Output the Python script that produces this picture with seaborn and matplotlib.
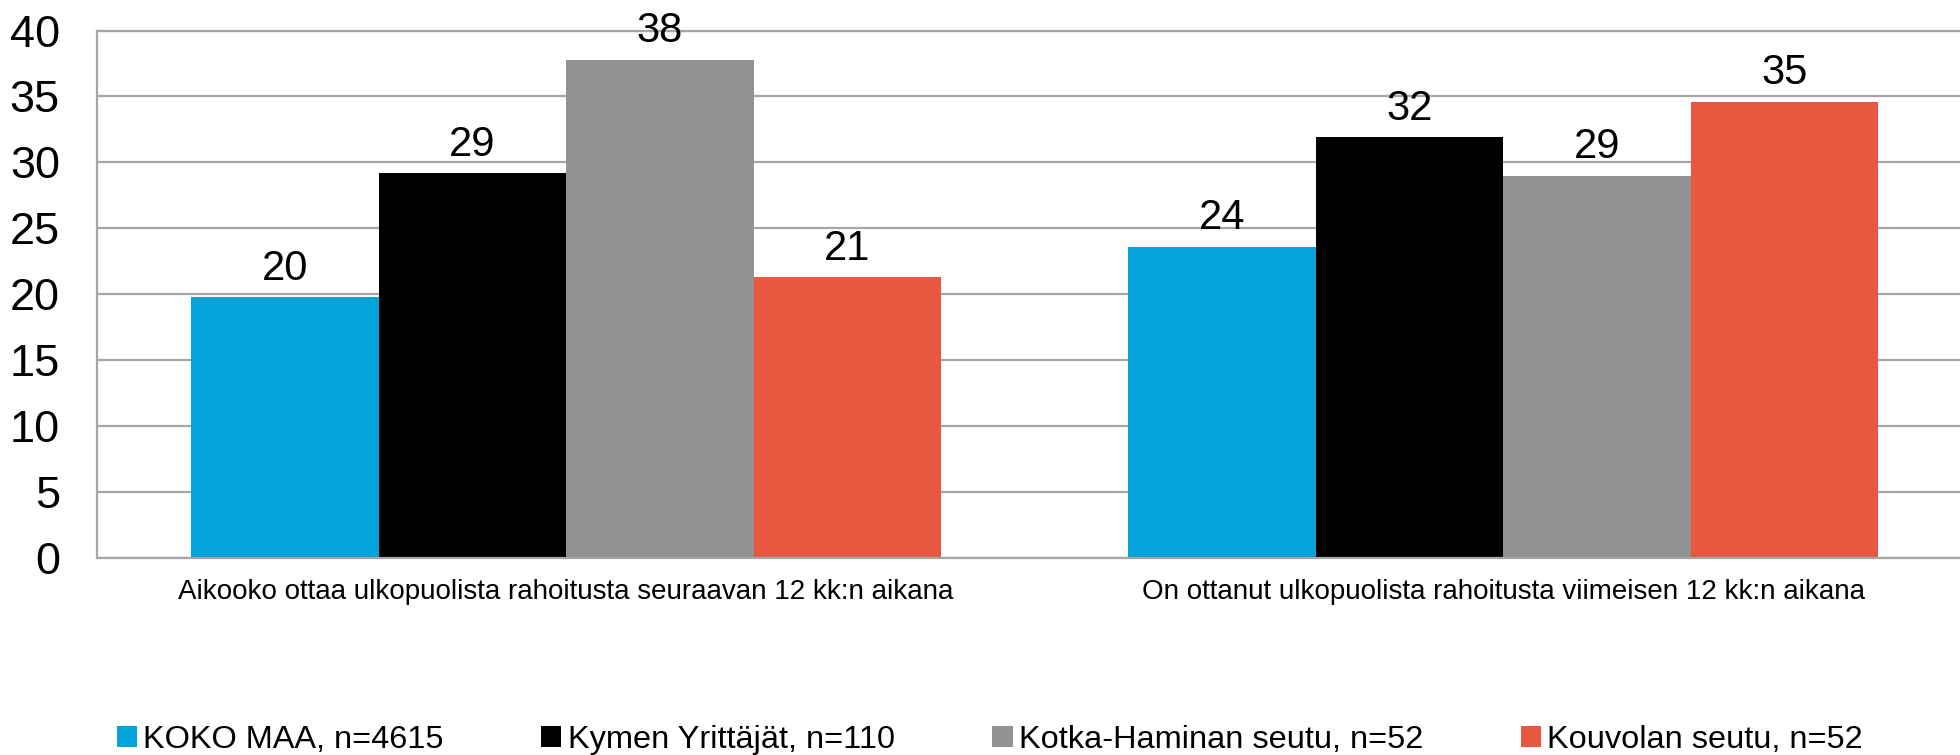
import pandas as pd
import matplotlib
matplotlib.use("Agg")
import matplotlib.pyplot as plt
import seaborn as sns

# Data
questions = ["Aikooko ottaa ulkopuolista rahoitusta seuraavan 12 kk:n aikana",
             "On ottanut ulkopuolista rahoitusta viimeisen 12 kk:n aikana"]
groups = ["KOKO MAA, n=4615", "Kymen Yrittäjät, n=110",
          "Kotka-Haminan seutu, n=52", "Kouvolan seutu, n=52"]
aikoo = [19.8, 29.2, 37.8, 21.3]
ottanut = [23.6, 31.9, 29.0, 34.6]
colors = ["#02A4D9", "#000000", "#929292", "#E8573F"]

rows = []
for g, a, o in zip(groups, aikoo, ottanut):
    rows.append({"kysymys": questions[0], "ryhma": g, "osuus": a})
    rows.append({"kysymys": questions[1], "ryhma": g, "osuus": o})
df = pd.DataFrame(rows)

sns.set_style("white")
plt.rcParams["font.family"] = ["Liberation Sans", "DejaVu Sans"]
plt.rcParams["text.color"] = "black"
plt.rcParams["xtick.color"] = "black"
plt.rcParams["ytick.color"] = "black"

fig = plt.figure(figsize=(19.6, 7.55), dpi=100)
# axes run slightly past the right edge, like the original
ax = fig.add_axes([0.0497, 0.261, 0.9564, 0.6985])

sns.barplot(data=df, x="kysymys", y="osuus", hue="ryhma", order=questions,
            hue_order=groups, palette=colors, width=0.8, linewidth=0,
            saturation=1, ax=ax, legend=True)

for cont in ax.containers:
    ax.bar_label(cont, labels=[f"{round(b.get_height()):.0f}" for b in cont],
                 padding=6, fontsize=30, color="black")

ax.set_ylim(0, 40)
ax.set_yticks(range(0, 41, 5))
ax.set_xlabel("")
ax.set_ylabel("")
ax.yaxis.grid(True, color="#a6a6a6", linewidth=1.6)
ax.set_axisbelow(True)
ax.tick_params(axis="y", length=0, pad=27, labelsize=32.5)
ax.tick_params(axis="x", length=0, pad=15, labelsize=20)
for s in ["left", "bottom", "top"]:
    ax.spines[s].set_color("#a6a6a6")
    ax.spines[s].set_linewidth(1.6)
ax.spines["right"].set_visible(False)

handles, labels = ax.get_legend_handles_labels()
ax.legend_.remove()
fig.legend(handles, labels, loc="center", bbox_to_anchor=(0.505, 1 - 740 / 755),
           ncol=4, frameon=False, fontsize=23.4, handlelength=0.62,
           handleheight=0.62, handletextpad=0.2, columnspacing=3.0)

fig.savefig("out.png", dpi=100)
